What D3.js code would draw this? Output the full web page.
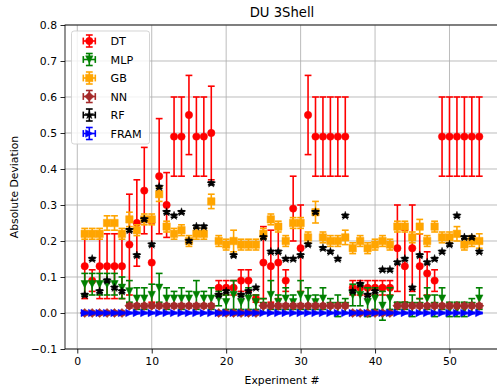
<!DOCTYPE html>
<html>
<head>
<meta charset="utf-8">
<script src="https://cdn.jsdelivr.net/npm/d3@7"></script>
<style>
  html, body { margin: 0; padding: 0; background: #fff; }
  svg { display: block; font-family: "DejaVu Sans", sans-serif; }
</style>
</head>
<body>
<svg id="chart" width="497" height="390"></svg>
<script>
const experiments = [1,2,3,4,5,6,7,8,9,10,11,12,13,14,15,16,17,18,19,20,21,22,23,24,25,26,27,28,29,30,31,32,33,34,35,36,37,38,39,40,41,42,43,44,45,46,47,48,49,50,51,52,53,54];

const dtVal = [0.13,0.09,0.13,0.13,0.13,0.13,0.19,0.25,0.34,0.14, 0.38,0.30,0.49,0.49,0.55,0.49,0.49,0.50,0.07,0.07, 0.07,0.09,0.09,0.04,0.14,0.13,0.14,0.09,0.29,0.18, 0.55,0.49,0.49,0.49,0.49,0.49,0.07,0.07,0.07,0.07, 0.07,0.07,0.18,0.13,0.18,0.13,0.11,0.09,0.49,0.49, 0.49,0.49,0.49,0.49];
const dtErr = [0.09,0.03,0.09,0.09,0.09,0.09,0.14,0.12,0.12,0.11, 0.16,0.09,0.11,0.11,0.11,0.11,0.11,0.13,0.02,0.02, 0.02,0.03,0.03,0.01,0.10,0.10,0.10,0.03,0.09,0.12, 0.11,0.11,0.11,0.11,0.11,0.11,0.02,0.02,0.02,0.02, 0.02,0.02,0.12,0.10,0.12,0.09,0.06,0.03,0.11,0.11, 0.11,0.11,0.11,0.11];

const mlpVal = [0.08,0.08,0.08,0.08,0.08,0.07,0.06,0.04,0.04,0.05, 0.07,0.04,0.04,0.04,0.04,0.05,0.04,0.04,0.04,0.03, 0.05,0.03,0.04,0.03,0.02,0.05,0.03,0.04,0.03,0.05, 0.04,0.03,0.04,0.02,0.02,0.02,0.05,0.05,0.03,0.04, 0.02,0.04,0.02,0.02,0.02,0.02,0.04,0.02,0.04,0.01, 0.01,0.01,0.02,0.04];
const mlpErr = [0.03,0.03,0.03,0.03,0.03,0.03,0.03,0.03,0.03,0.03, 0.04,0.03,0.02,0.03,0.02,0.04,0.02,0.03,0.02,0.02, 0.04,0.02,0.03,0.02,0.02,0.04,0.02,0.03,0.02,0.04, 0.03,0.02,0.03,0.02,0.03,0.02,0.03,0.03,0.04,0.03, 0.04,0.03,0.01,0.01,0.03,0.02,0.03,0.03,0.03,0.02, 0.02,0.02,0.02,0.03];

const gbVal = [0.22,0.22,0.22,0.25,0.25,0.22,0.26,0.23,0.26,0.26, 0.33,0.24,0.22,0.23,0.20,0.22,0.22,0.31,0.20,0.19, 0.20,0.19,0.19,0.19,0.22,0.26,0.24,0.20,0.25,0.25, 0.21,0.28,0.21,0.20,0.20,0.21,0.18,0.20,0.18,0.19, 0.20,0.19,0.24,0.24,0.21,0.24,0.20,0.24,0.21,0.21, 0.22,0.19,0.20,0.20];
const gbErr = [0.015,0.015,0.015,0.02,0.02,0.015,0.02,0.015,0.015,0.015, 0.02,0.015,0.015,0.015,0.015,0.015,0.015,0.02,0.015,0.015, 0.03,0.015,0.015,0.015,0.015,0.015,0.015,0.015,0.015,0.015, 0.015,0.03,0.015,0.015,0.015,0.02,0.015,0.015,0.015,0.015, 0.015,0.015,0.015,0.015,0.015,0.02,0.015,0.015,0.015,0.015, 0.02,0.015,0.015,0.02];

const nnVal = [0,0,0,0,0,0,0.02,0.02,0.02,0.02, 0.02,0.02,0.02,0.02,0.02,0.02,0.02,0.02,0,0, 0,0,0,0,0.02,0.02,0.02,0.02,0.02,0.02, 0.02,0.02,0.02,0.02,0.02,0.02,0,0,0,0, 0,0,0.02,0.02,0.02,0.02,0.02,0.02,0.02,0.02, 0.02,0.02,0.02,0.02];
const nnErr = [0.005,0.005,0.005,0.005,0.005,0.005,0.006,0.006,0.006,0.006, 0.006,0.006,0.006,0.006,0.006,0.006,0.006,0.006,0.005,0.005, 0.005,0.005,0.005,0.005,0.006,0.006,0.006,0.006,0.006,0.006, 0.006,0.006,0.006,0.006,0.006,0.006,0.005,0.005,0.005,0.005, 0.005,0.005,0.006,0.006,0.006,0.006,0.006,0.006,0.006,0.006, 0.006,0.006,0.006,0.006];

const rfVal = [0.05,0.15,0.06,0.09,0.07,0.06,0.23,0.16,0.26,0.19, 0.35,0.28,0.27,0.28,0.20,0.24,0.24,0.36,0.05,0.06, 0.16,0.05,0.06,0.07,0.21,0.17,0.17,0.15,0.15,0.16, 0.19,0.28,0.18,0.17,0.15,0.27,0.06,0.08,0.05,0.06, 0.12,0.12,0.14,0.15,0.07,0.16,0.14,0.15,0.17,0.19, 0.27,0.21,0.21,0.17];
const rfErr = [0.004,0.004,0.004,0.004,0.004,0.004,0.004,0.004,0.004,0.004, 0.004,0.004,0.004,0.004,0.004,0.004,0.004,0.004,0.004,0.004, 0.004,0.004,0.004,0.004,0.004,0.004,0.004,0.004,0.004,0.004, 0.004,0.004,0.004,0.004,0.004,0.004,0.004,0.004,0.004,0.004, 0.004,0.004,0.004,0.004,0.004,0.004,0.004,0.004,0.004,0.004, 0.004,0.004,0.004,0.004];

const framVal = [0,0,0,0,0,0,0,0,0,0, 0,0,0,0,0,0,0,0,0,0, 0,0,0,0,0,0,0,0,0,0, 0,0,0,0,0,0,0,0,0,0, 0,0,0,0,0,0,0,0,0,0, 0,0,0,0];
const framErr = [0.002,0.002,0.002,0.002,0.002,0.002,0.002,0.002,0.002,0.002, 0.002,0.002,0.002,0.002,0.002,0.002,0.002,0.002,0.002,0.002, 0.002,0.002,0.002,0.002,0.002,0.002,0.002,0.002,0.002,0.002, 0.002,0.002,0.002,0.002,0.002,0.002,0.002,0.002,0.002,0.002, 0.002,0.002,0.002,0.002,0.002,0.002,0.002,0.002,0.002,0.002, 0.002,0.002,0.002,0.002];

const seriesNames = ["DT","MLP","GB","NN","RF","FRAM"];
const seriesColors = ["#ff0000","#008000","#ffa500","#a52a2a","#000000","#0000ff"];
const seriesMarkers = ["circle","tridown","square","diamond","star","triright"];
const seriesVals = [dtVal, mlpVal, gbVal, nnVal, rfVal, framVal];
const seriesErrs = [dtErr, mlpErr, gbErr, nnErr, rfErr, framErr];

const xTicks = [0,10,20,30,40,50];
const yTicks = [-0.1,0,0.1,0.2,0.3,0.4,0.5,0.6,0.7,0.8];

const svg = d3.select("#chart");
const L = 65, R = 499, T = 25, B = 349;
const x = d3.scaleLinear().domain([-1.65, 56.65]).range([L, R]);
const y = d3.scaleLinear().domain([-0.1, 0.8]).range([B, T]);

// grid
const grid = svg.append("g");
grid.selectAll("line.vx").data(xTicks).join("line")
  .attr("x1", d => x(d)).attr("x2", d => x(d)).attr("y1", T).attr("y2", B)
  .attr("stroke", "#b0b0b0").attr("stroke-width", 0.85);
grid.selectAll("line.hy").data(yTicks).join("line")
  .attr("x1", L).attr("x2", R).attr("y1", d => y(d)).attr("y2", d => y(d))
  .attr("stroke", "#b0b0b0").attr("stroke-width", 0.85);

svg.append("clipPath").attr("id", "clip").append("rect")
  .attr("x", L).attr("y", T).attr("width", R - L).attr("height", B - T);

const ms = 7.4;
function markerPath(type) {
  const p = d3.path();
  const h = ms / 2;
  if (type === "circle") { p.arc(0, 0, h, 0, 2 * Math.PI); p.closePath(); }
  else if (type === "square") { p.rect(-h, -h, ms, ms); }
  else if (type === "tridown") { p.moveTo(0, h); p.lineTo(-h, -h); p.lineTo(h, -h); p.closePath(); }
  else if (type === "triright") { p.moveTo(h, 0); p.lineTo(-h, -h); p.lineTo(-h, h); p.closePath(); }
  else if (type === "diamond") { const d = ms * 0.62; p.moveTo(0, -d); p.lineTo(d, 0); p.lineTo(0, d); p.lineTo(-d, 0); p.closePath(); }
  else if (type === "star") {
    const ro = h * 1.2, ri = ro * 0.382;
    for (let k = 0; k < 10; k++) {
      const r = k % 2 === 0 ? ro : ri;
      const a = -Math.PI / 2 + k * Math.PI / 5;
      const px = r * Math.cos(a), py = r * Math.sin(a);
      if (k === 0) p.moveTo(px, py); else p.lineTo(px, py);
    }
    p.closePath();
  }
  return p.toString();
}

const plot = svg.append("g").attr("clip-path", "url(#clip)");
const cap = 3.4;
seriesNames.forEach((name, si) => {
  const data = experiments.map((e, i) => ({ e, v: seriesVals[si][i], err: seriesErrs[si][i] }));
  const g = plot.append("g");
  const col = seriesColors[si];
  g.selectAll("line.bar").data(data).join("line")
    .attr("x1", d => x(d.e)).attr("x2", d => x(d.e))
    .attr("y1", d => y(d.v - d.err)).attr("y2", d => y(d.v + d.err))
    .attr("stroke", col).attr("stroke-width", 1.6);
  g.selectAll("line.capt").data(data).join("line")
    .attr("x1", d => x(d.e) - cap).attr("x2", d => x(d.e) + cap)
    .attr("y1", d => y(d.v + d.err)).attr("y2", d => y(d.v + d.err))
    .attr("stroke", col).attr("stroke-width", 1.6);
  g.selectAll("line.capb").data(data).join("line")
    .attr("x1", d => x(d.e) - cap).attr("x2", d => x(d.e) + cap)
    .attr("y1", d => y(d.v - d.err)).attr("y2", d => y(d.v - d.err))
    .attr("stroke", col).attr("stroke-width", 1.6);
  const mp = markerPath(seriesMarkers[si]);
  g.selectAll("path.m").data(data).join("path")
    .attr("d", mp)
    .attr("transform", d => `translate(${x(d.e)},${y(d.v)})`)
    .attr("fill", col).attr("stroke", col).attr("stroke-width", 0.5);
});

// axes
const xAxis = d3.axisBottom(x).tickValues(xTicks).tickSize(4.5).tickPadding(3.5).tickFormat(d3.format("d"));
const yAxis = d3.axisLeft(y).tickValues(yTicks).tickSize(4.5).tickPadding(3.5).tickFormat(d3.format(".1f"));
const gx = svg.append("g").attr("transform", `translate(0,${B})`).call(xAxis);
const gy = svg.append("g").attr("transform", `translate(${L},0)`).call(yAxis);
[gx, gy].forEach(g => {
  g.select(".domain").remove();
  g.selectAll("text").attr("font-size", 10.8).attr("fill", "#000").attr("font-family", "DejaVu Sans");
  g.selectAll("line").attr("stroke", "#000").attr("stroke-width", 0.85);
});

// spines
svg.append("rect").attr("x", L).attr("y", T).attr("width", R - L).attr("height", B - T)
  .attr("fill", "none").attr("stroke", "#000").attr("stroke-width", 0.85);

// labels
svg.append("text").attr("x", (L + R) / 2).attr("y", 17).attr("text-anchor", "middle")
  .attr("font-size", 13.2).text("DU 3Shell");
svg.append("text").attr("x", (L + R) / 2).attr("y", 384).attr("text-anchor", "middle")
  .attr("font-size", 10.8).text("Experiment #");
svg.append("text").attr("transform", `translate(18,${(T + B) / 2}) rotate(-90)`).attr("text-anchor", "middle")
  .attr("font-size", 10.8).text("Absolute Deviation");

// legend
const lg = svg.append("g");
lg.append("rect").attr("x", 71.5).attr("y", 31).attr("width", 78).attr("height", 113).attr("rx", 2.5)
  .attr("fill", "#fff").attr("fill-opacity", 0.8).attr("stroke", "#cccccc").attr("stroke-width", 0.85);
const lx = 89.3, hs = 6, lcap = 3.4;
seriesNames.forEach((name, si) => {
  const cy = 41 + si * 18.5;
  const col = seriesColors[si];
  const g = lg.append("g").attr("transform", `translate(${lx},${cy})`);
  g.append("line").attr("x1", -hs).attr("x2", hs).attr("y1", 0).attr("y2", 0).attr("stroke", col).attr("stroke-width", 1.6);
  g.append("line").attr("x1", 0).attr("x2", 0).attr("y1", -hs).attr("y2", hs).attr("stroke", col).attr("stroke-width", 1.6);
  g.append("line").attr("x1", -lcap).attr("x2", lcap).attr("y1", -hs).attr("y2", -hs).attr("stroke", col).attr("stroke-width", 1.6);
  g.append("line").attr("x1", -lcap).attr("x2", lcap).attr("y1", hs).attr("y2", hs).attr("stroke", col).attr("stroke-width", 1.6);
  g.append("line").attr("x1", -hs).attr("x2", -hs).attr("y1", -lcap).attr("y2", lcap).attr("stroke", col).attr("stroke-width", 1.6);
  g.append("line").attr("x1", hs).attr("x2", hs).attr("y1", -lcap).attr("y2", lcap).attr("stroke", col).attr("stroke-width", 1.6);
  g.append("path").attr("d", markerPath(seriesMarkers[si])).attr("fill", col).attr("stroke", col).attr("stroke-width", 0.5);
  lg.append("text").attr("x", 110.5).attr("y", cy + 4).attr("font-size", 11.2).text(name);
});
</script>
</body>
</html>
